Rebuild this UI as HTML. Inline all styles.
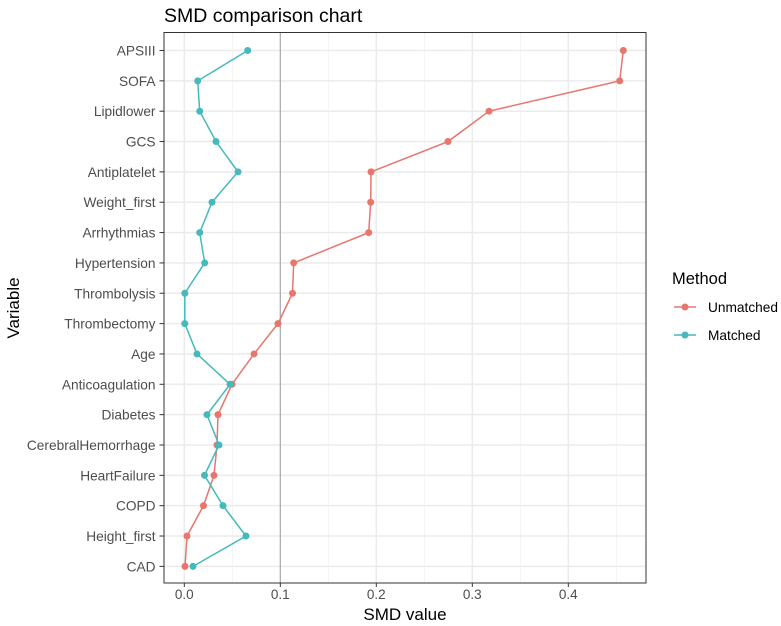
<!DOCTYPE html><html><head><meta charset="utf-8"><style>body{margin:0;background:#fff}svg{display:block}text{font-family:"Liberation Sans",sans-serif}</style></head><body>
<svg width="781" height="626" xmlns="http://www.w3.org/2000/svg">
<rect width="781" height="626" fill="#fff"/>
<text x="164" y="22" font-size="19.5" fill="#000">SMD comparison chart</text>
<g stroke="#f0f0f0" stroke-width="0.8">
<line x1="232.3" y1="33" x2="232.3" y2="583"/><line x1="328.3" y1="33" x2="328.3" y2="583"/><line x1="424.3" y1="33" x2="424.3" y2="583"/><line x1="520.3" y1="33" x2="520.3" y2="583"/><line x1="616.3" y1="33" x2="616.3" y2="583"/>
</g>
<g stroke="#ebebeb" stroke-width="1.5">
<line x1="184.3" y1="33" x2="184.3" y2="583"/><line x1="376.3" y1="33" x2="376.3" y2="583"/><line x1="472.3" y1="33" x2="472.3" y2="583"/><line x1="568.3" y1="33" x2="568.3" y2="583"/>
</g>
<g id="rows"></g>
<line x1="280.3" y1="33" x2="280.3" y2="583" stroke="#a6a6a6" stroke-width="1.2"/>
<g id="series"></g>
<rect x="164" y="32.5" width="482" height="550.5" fill="none" stroke="#333" stroke-width="1"/>
<g font-size="13.5" fill="#4d4d4d" text-anchor="middle">
<text x="184.3" y="599">0.0</text><text x="280.3" y="599">0.1</text><text x="376.3" y="599">0.2</text><text x="472.3" y="599">0.3</text><text x="568.3" y="599">0.4</text>
</g>
<g stroke="#333"><line x1="184.3" y1="583" x2="184.3" y2="587"/><line x1="280.3" y1="583" x2="280.3" y2="587"/><line x1="376.3" y1="583" x2="376.3" y2="587"/><line x1="472.3" y1="583" x2="472.3" y2="587"/><line x1="568.3" y1="583" x2="568.3" y2="587"/></g>
<text x="405" y="620" font-size="17" text-anchor="middle" fill="#000">SMD value</text>
<text transform="translate(19,308) rotate(-90)" font-size="17" text-anchor="middle" fill="#000">Variable</text>
<g id="labels" font-size="13.7" fill="#4d4d4d" text-anchor="end"></g>
<text x="672" y="284" font-size="16.5" fill="#000">Method</text>
<line x1="674" y1="307" x2="696" y2="307" stroke="#E7766D" stroke-width="1.5"/><circle cx="685" cy="307" r="3.5" fill="#E7766D"/>
<text x="708" y="312" font-size="13.7" fill="#000">Unmatched</text>
<line x1="674" y1="335" x2="696" y2="335" stroke="#45B9BB" stroke-width="1.5"/><circle cx="685" cy="335" r="3.5" fill="#45B9BB"/>
<text x="708" y="340" font-size="13.7" fill="#000">Matched</text>
<script>
var names=["APSIII","SOFA","Lipidlower","GCS","Antiplatelet","Weight_first","Arrhythmias","Hypertension","Thrombolysis","Thrombectomy","Age","Anticoagulation","Diabetes","CerebralHemorrhage","HeartFailure","COPD","Height_first","CAD"];
var U=[623.3,619.7,489,448,371,370.7,368.7,293.7,292.5,278,254,232,218,217,214,203.5,187,185];
var M=[247.7,197.7,199.7,216,238,212,199.7,204.7,184.8,184.8,197,230,207,219,204.5,223,246,193];
var ns="http://www.w3.org/2000/svg";function el(t,a,p){var e=document.createElementNS(ns,t);for(var k in a)e.setAttribute(k,a[k]);p.appendChild(e);return e;}
var rows=document.getElementById("rows"),lab=document.getElementById("labels"),ser=document.getElementById("series");
var ys=names.map(function(_,i){return 50.5+i*30.345;});
ys.forEach(function(y,i){el("line",{x1:164,x2:646,y1:y,y2:y,stroke:"#ebebeb","stroke-width":1.5},rows);el("line",{x1:159.5,x2:164,y1:y,y2:y,stroke:"#333"},lab);var t=el("text",{x:155.5,y:y+5},lab);t.textContent=names[i];});
function s(d,c){el("polyline",{points:d.map(function(x,i){return x+","+ys[i]}).join(" "),fill:"none",stroke:c,"stroke-width":1.5},ser);d.forEach(function(x,i){el("circle",{cx:x,cy:ys[i],r:3.5,fill:c},ser);});}
s(U,"#E7766D");s(M,"#45B9BB");
</script>
</svg></body></html>
